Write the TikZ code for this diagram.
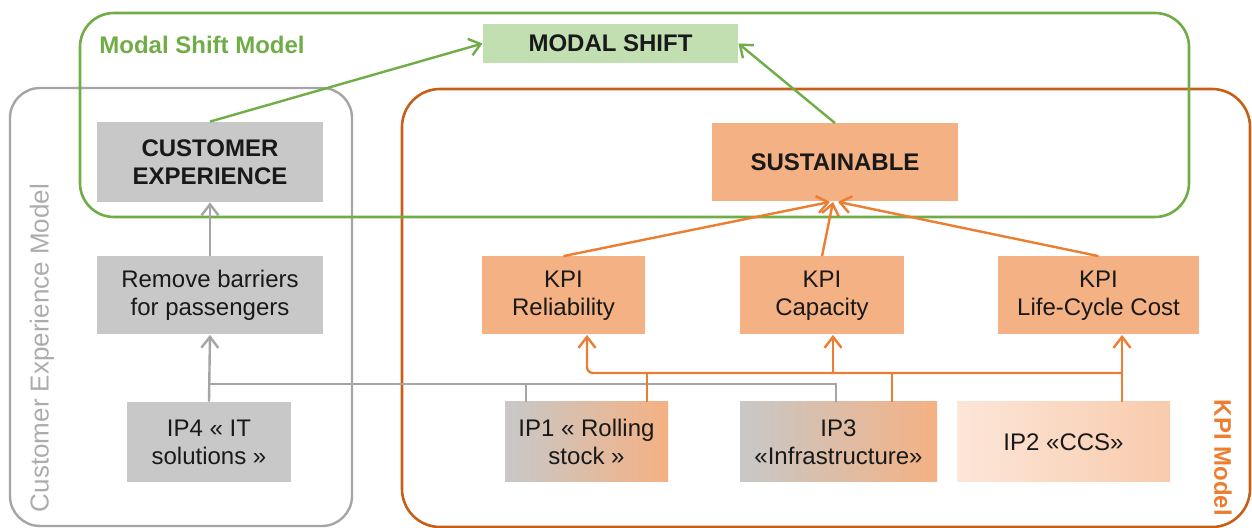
\documentclass[tikz,border=0pt]{standalone}
\usepackage{fontspec}
\setmainfont{Liberation Sans}
\usetikzlibrary{arrows.meta}

\definecolor{msgreen}{RGB}{112,173,71}
\definecolor{msgreenfill}{RGB}{194,223,178}
\definecolor{boxgrey}{RGB}{200,200,200}
\definecolor{framegrey}{RGB}{165,165,165}
\definecolor{labelgrey}{RGB}{172,172,172}
\definecolor{boxorange}{RGB}{244,177,131}
\definecolor{frameorange}{RGB}{200,95,25}
\definecolor{lineorange}{RGB}{237,125,49}
\definecolor{ipalight}{RGB}{252,230,216}
\definecolor{ipbright}{RGB}{248,203,173}
\definecolor{textdark}{RGB}{25,25,25}

\begin{document}
\begin{tikzpicture}[
  x=0.5pt, y=-0.5pt,
  >={Straight Barb[length=5.5pt,width=8.5pt]},
  every node/.style={align=center, text=textdark, inner sep=0pt, font=\fontsize{12}{14}\selectfont},
  greybox/.style={fill=boxgrey, minimum width=#1, minimum height=39pt},
  orangebox/.style={fill=boxorange, minimum width=#1, minimum height=39pt},
  mixbox/.style={left color=boxgrey, right color=boxorange, minimum width=#1, minimum height=40pt},
  gline/.style={draw=framegrey, line width=1.2pt},
  oline/.style={draw=lineorange, line width=1.2pt},
  glink/.style={draw=msgreen, line width=1.2pt},
]
\useasboundingbox (0,0) rectangle (1252,528);

% model frames
\draw[framegrey, line width=1.2pt, rounded corners=15pt] (10,88) rectangle (352,526);
\draw[frameorange, line width=1.3pt, rounded corners=19pt] (402,89) rectangle (1250,527);
\draw[msgreen, line width=1.3pt, rounded corners=17pt] (80,13) rectangle (1189,217);

\node (msmlabel) at (202,45) [text=msgreen, font=\bfseries\fontsize{12}{14}\selectfont] {Modal Shift Model};
\node (cemlabel) at (42,348) [rotate=90, text=labelgrey, font=\fontsize{13}{15}\selectfont] {Customer Experience Model};
\node (kpilabel) at (1223,458) [rotate=-90, text=lineorange, font=\bfseries\fontsize{12}{14}\selectfont] {KPI Model};

% boxes
\node (modal) at (610.5,43.5) [fill=msgreenfill, minimum width=127.5pt, minimum height=19.5pt, font=\bfseries\fontsize{12}{14}\selectfont] {MODAL SHIFT};
\node (ce) at (210,162) [greybox=113pt, minimum height=40pt, font=\bfseries\fontsize{12}{14}\selectfont] {CUSTOMER\\EXPERIENCE};
\node (sust) at (835,162.5) [orangebox=123pt, font=\bfseries\fontsize{12}{14}\selectfont] {SUSTAINABLE};
\node (barriers) at (210,295.5) [greybox=113pt] {Remove barriers\\for passengers};
\node (rel) at (563.5,295.5) [orangebox=81.5pt] {KPI\\Reliability};
\node (cap) at (822,295.5) [orangebox=82pt] {KPI\\Capacity};
\node (lcc) at (1098.5,295.5) [orangebox=100.5pt] {KPI\\Life-Cycle Cost};
\node (ip4) at (209,442) [greybox=82pt, minimum height=40pt] {IP4 « IT\\solutions »};
\node (ip1) at (586.5,442) [mixbox=81.5pt] {IP1 « Rolling\\stock »};
\node (ip3) at (838.5,442) [mixbox=98.5pt] {IP3\\«Infrastructure»};
\node (ip2) at (1063.5,442) [left color=ipalight, right color=ipbright, minimum width=106.5pt, minimum height=40pt] {IP2 «CCS»};

% green links
\draw[glink, ->] (ce.north) -- (modal.west);
\draw[glink, ->] (sust.north) -- (modal.east);

% orange links to sustainable
\draw[oline, ->] (rel.north) -- ([xshift=-2.5pt]sust.south);
\draw[oline, ->] (cap.north) -- ([xshift=-1pt]sust.south);
\draw[oline, ->] (lcc.north) -- ([xshift=1.5pt]sust.south);

% grey tree
\coordinate (g4) at (209,384);
\coordinate (g1) at (526,384);
\coordinate (g3) at (836,384);
\draw[gline, ->] (ip4.north) -- (barriers.south);
\draw[gline, ->] (barriers.north) -- (ce.south);
\draw[gline] (g3 |- ip3.north) -- (g3) -- (g4);
\draw[gline] (g1 |- ip1.north) -- (g1);

% orange tree
\coordinate (jrel) at (587,373);
\coordinate (jcap) at (833,373);
\coordinate (jlcc) at (1122,373);
\coordinate (d1) at (647,373);
\coordinate (d3) at (892,373);
\draw[oline, ->, rounded corners=3pt] (jlcc) -- (jrel) -- (jrel |- rel.south);
\draw[oline, ->] (jcap) -- (jcap |- cap.south);
\draw[oline, ->] (jlcc |- ip2.north) -- (jlcc |- lcc.south);
\draw[oline] (d1 |- ip1.north) -- (d1);
\draw[oline] (d3 |- ip3.north) -- (d3);
\end{tikzpicture}
\end{document}
